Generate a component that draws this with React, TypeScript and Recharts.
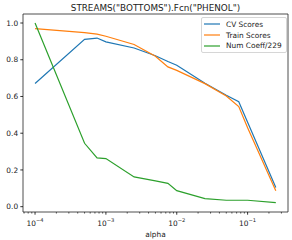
import { LineChart, Line, XAxis, YAxis, ReferenceArea } from 'recharts';

const alphas = [0.0001, 0.0005, 0.00075, 0.001, 0.0025, 0.005, 0.0075, 0.01, 0.025, 0.05, 0.075, 0.1, 0.25];
const cvScores = [0.671, 0.911, 0.918, 0.897, 0.864, 0.822, 0.79, 0.77, 0.672, 0.607, 0.571, 0.46, 0.105];
const trainScores = [0.969, 0.948, 0.939, 0.928, 0.883, 0.819, 0.761, 0.742, 0.67, 0.602, 0.545, 0.43, 0.087];
const numCoeff = [1.0, 0.345, 0.266, 0.262, 0.162, 0.14, 0.127, 0.087, 0.044, 0.035, 0.035, 0.035, 0.022];

const yTicks = [0, 0.2, 0.4, 0.6, 0.8, 1.0];
const majorX = [0.0001, 0.001, 0.01, 0.1];
const minorX = [
  0.00007, 0.00008, 0.00009,
  0.0002, 0.0003, 0.0004, 0.0005, 0.0006, 0.0007, 0.0008, 0.0009,
  0.002, 0.003, 0.004, 0.005, 0.006, 0.007, 0.008, 0.009,
  0.02, 0.03, 0.04, 0.05, 0.06, 0.07, 0.08, 0.09,
  0.2, 0.3,
];
const majorLabels = ['\u22124', '\u22123', '\u22122', '\u22121'];

const X_DOMAIN: [number, number] = [Math.pow(10, -4.17), Math.pow(10, -0.43)];
const Y_DOMAIN: [number, number] = [-0.029, 1.049];

const series = [
  { key: 'cv', name: 'CV Scores', color: '#1f77b4' },
  { key: 'train', name: 'Train Scores', color: '#ff7f0e' },
  { key: 'coef', name: 'Num Coeff/229', color: '#2ca02c' },
];

const data = alphas.map((a, i) => ({
  alpha: a,
  cv: cvScores[i],
  train: trainScores[i],
  coef: numCoeff[i],
}));

const FONT = 'DejaVu Sans';

function XTick(props: any) {
  const { x, y, payload } = props;
  const idx = majorX.indexOf(payload.value);
  if (idx < 0) {
    return <line x1={x} x2={x} y1={y} y2={y + 1.6} stroke="#000" strokeWidth={0.6} />;
  }
  return (
    <g>
      <line x1={x} x2={x} y1={y} y2={y + 2.7} stroke="#000" strokeWidth={0.8} />
      <text x={x} y={y + 14} textAnchor="middle" fontFamily={FONT} fontSize={7.4} fill="#222">
        <tspan>10</tspan>
        <tspan dy={-3.6} fontSize={5.2}>{majorLabels[idx]}</tspan>
      </text>
    </g>
  );
}

function LegendBox() {
  return (
    <div
      style={{
        position: 'absolute',
        left: 201,
        top: 17,
        width: 80,
        border: '1px solid #d6d6d6',
        borderRadius: 2,
        background: 'rgba(255,255,255,0.8)',
        padding: '1px 2px',
        fontFamily: FONT,
        fontSize: 7.4,
        color: '#222',
      }}
    >
      {series.map((s) => (
        <div key={s.key} style={{ display: 'flex', alignItems: 'center', height: 10.7 }}>
          <svg width={16} height={4} style={{ marginRight: 6 }}>
            <line x1={0} x2={16} y1={2} y2={2} stroke={s.color} strokeWidth={1.2} />
          </svg>
          <span>{s.name}</span>
        </div>
      ))}
    </div>
  );
}

export default function App() {
  return (
    <div style={{ position: 'relative', width: 292, height: 240, background: '#fff' }}>
      <style>{`body{margin:0}`}</style>
      <svg style={{ position: 'absolute', left: 0, top: 0 }} width={292} height={14}>
        <text x={155.5} y={10.5} textAnchor="middle" fontFamily={FONT} fontSize={8.8} fill="#222">
          STREAMS("BOTTOMS").Fcn("PHENOL")
        </text>
      </svg>
      <LineChart width={292} height={240} data={data} margin={{ top: 14, right: 4, bottom: 0, left: 0 }}>
        <XAxis
          dataKey="alpha"
          type="number"
          scale="log"
          domain={X_DOMAIN}
          allowDataOverflow
          ticks={[...majorX, ...minorX].sort((a, b) => a - b)}
          interval={0}
          tick={<XTick />}
          tickLine={false}
          tickSize={0}
          tickMargin={0}
          axisLine={false}
          height={28}
          label={{ value: 'alpha', position: 'insideBottom', offset: 3, fontFamily: FONT, fontSize: 7.4, fill: '#222' }}
        />
        <YAxis
          type="number"
          domain={Y_DOMAIN}
          allowDataOverflow
          ticks={yTicks}
          interval={0}
          tickFormatter={(v: number) => v.toFixed(1)}
          tick={{ fontFamily: FONT, fontSize: 7.4, fill: '#222' }}
          tickLine={{ stroke: '#000', strokeWidth: 0.8 }}
          tickSize={2.7}
          tickMargin={2.2}
          axisLine={false}
          width={23}
        />
        <ReferenceArea
          x1={X_DOMAIN[0]}
          x2={X_DOMAIN[1]}
          y1={Y_DOMAIN[0]}
          y2={Y_DOMAIN[1]}
          fill="none"
          stroke="#222"
          strokeWidth={0.8}
          ifOverflow="extendDomain"
        />
        {series.map((s) => (
          <Line
            key={s.key}
            dataKey={s.key}
            name={s.name}
            stroke={s.color}
            strokeWidth={1.2}
            dot={false}
            type="linear"
            isAnimationActive={false}
          />
        ))}
      </LineChart>
      <LegendBox />
    </div>
  );
}
